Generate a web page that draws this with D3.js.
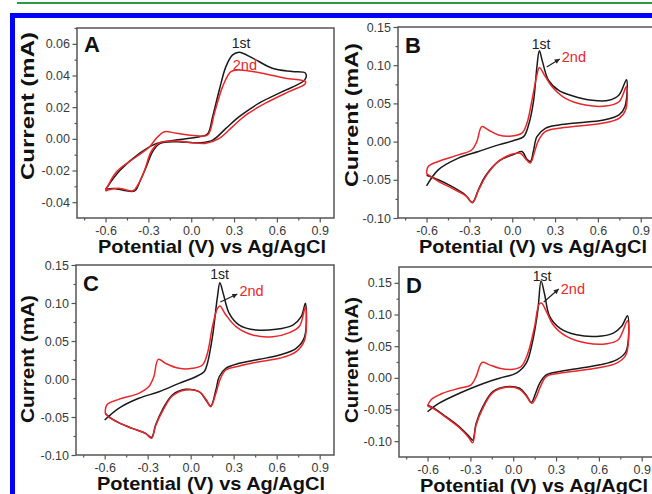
<!DOCTYPE html>
<html>
<head>
<meta charset="utf-8">
<script src="https://cdn.jsdelivr.net/npm/d3@7"></script>
<style>
body{margin:0;background:#fff}
svg{display:block}
text{font-family:"Liberation Sans",Arial,sans-serif}
</style>
</head>
<body>
<div id="chart"></div>
<script>
// datos: potencial (V) y corriente (mA), 1er y 2do barrido de cada panel
const potTicks = [-0.6, -0.3, 0.0, 0.3, 0.6, 0.9]
const ticksA = [-0.04, -0.02, 0.00, 0.02, 0.04, 0.06]
const ticksB = [-0.10, -0.05, 0.00, 0.05, 0.10, 0.15]
const ticksC = [-0.10, -0.05, 0.00, 0.05, 0.10, 0.15]
const ticksD = [-0.10, -0.05, 0.00, 0.05, 0.10, 0.15]
const domA = [-0.05, 0.07]
const domB = [-0.10, 0.15]
const domC = [-0.10, 0.15]
const domD = [-0.125, 0.175]
const potDom = [-0.8, 1.0]

const aFirst = [[-0.60,-0.032],[-0.50,-0.020],[-0.36,-0.009],[-0.245,-0.003],[-0.13,-0.001],[0.057,0.0013],[0.114,0.003],[0.15,0.014],[0.197,0.031],[0.243,0.0456],[0.29,0.053],[0.336,0.0547],[0.43,0.051],[0.568,0.0446],[0.707,0.0425],[0.80,0.0415],
  [0.795,0.0372],[0.638,0.0298],[0.475,0.0225],[0.336,0.014],[0.243,0.0066],[0.15,-0.0008],[0.057,-0.0025],[-0.105,-0.0018],[-0.22,-0.003],[-0.27,-0.008],[-0.315,-0.0177],[-0.36,-0.027],[-0.396,-0.0329],[-0.477,-0.0324],[-0.547,-0.0313],[-0.60,-0.032]]
const aSecond = [[-0.60,-0.033],[-0.523,-0.0208],[-0.384,-0.0113],[-0.291,-0.005],[-0.245,0.0003],[-0.187,0.0045],[-0.105,0.0035],[0.034,0.002],[0.115,0.0024],[0.162,0.016],[0.22,0.033],[0.278,0.0425],[0.336,0.0435],[0.522,0.041],[0.661,0.0383],[0.80,0.0362],
  [0.795,0.0345],[0.684,0.0298],[0.52,0.0225],[0.382,0.015],[0.29,0.0077],[0.197,0.0003],[0.104,-0.0028],[0.01,-0.0025],[-0.105,-0.0013],[-0.222,-0.0025],[-0.28,-0.008],[-0.326,-0.0197],[-0.373,-0.029],[-0.408,-0.0328],[-0.50,-0.0313],[-0.57,-0.032],[-0.60,-0.033]]

const bFirst = [[-0.60,-0.058],[-0.518,-0.037],[-0.377,-0.0217],[-0.237,-0.013],[-0.096,-0.0043],[0.021,0.002],[0.08,0.0065],[0.115,0.022],[0.15,0.054],[0.173,0.098],[0.19,0.119],[0.213,0.104],[0.255,0.080],[0.326,0.067],[0.42,0.060],[0.56,0.054],[0.677,0.054],[0.748,0.061],[0.80,0.081],
  [0.79,0.046],[0.748,0.035],[0.63,0.028],[0.466,0.0248],[0.326,0.0217],[0.232,0.0174],[0.173,0.0065],[0.15,-0.011],[0.127,-0.026],[0.103,-0.023],[0.068,-0.013],[0.021,-0.016],[-0.096,-0.026],[-0.19,-0.0457],[-0.237,-0.063],[-0.279,-0.0796],[-0.33,-0.0696],[-0.424,-0.0587],[-0.518,-0.05],[-0.60,-0.044]]
const bSecond = [[-0.60,-0.042],[-0.588,-0.0326],[-0.518,-0.026],[-0.377,-0.0174],[-0.284,-0.011],[-0.248,0.0],[-0.213,0.0196],[-0.166,0.0152],[-0.096,0.0087],[-0.002,0.0074],[0.068,0.011],[0.103,0.024],[0.138,0.054],[0.173,0.087],[0.19,0.097],[0.232,0.085],[0.279,0.0717],[0.373,0.0565],[0.513,0.0478],[0.654,0.0465],[0.748,0.0522],[0.80,0.072],
  [0.794,0.0413],[0.748,0.0304],[0.63,0.024],[0.466,0.0204],[0.326,0.0174],[0.232,0.013],[0.185,0.002],[0.157,-0.013],[0.127,-0.028],[0.096,-0.023],[0.056,-0.0152],[0.009,-0.016],[-0.084,-0.024],[-0.178,-0.0435],[-0.232,-0.062],[-0.279,-0.080],[-0.319,-0.0717],[-0.424,-0.061],[-0.518,-0.052],[-0.60,-0.042]]

const cFirst = [[-0.60,-0.054],[-0.502,-0.0386],[-0.362,-0.0254],[-0.221,-0.0167],[-0.081,-0.0057],[0.036,0.003],[0.094,0.0096],[0.117,0.0206],[0.152,0.0557],[0.187,0.1083],[0.204,0.1268],[0.227,0.1127],[0.269,0.0864],[0.339,0.071],[0.456,0.0645],[0.596,0.0654],[0.713,0.071],[0.771,0.082],[0.80,0.0996],
  [0.795,0.0557],[0.736,0.0404],[0.62,0.0316],[0.479,0.0259],[0.339,0.0206],[0.245,0.014],[0.199,0.003],[0.176,-0.0145],[0.14,-0.0355],[0.106,-0.0276],[0.059,-0.0167],[-0.035,-0.0136],[-0.128,-0.021],[-0.198,-0.0408],[-0.245,-0.0605],[-0.273,-0.0768],[-0.315,-0.0715],[-0.408,-0.0649],[-0.502,-0.0575],[-0.572,-0.0496],[-0.596,-0.045]]
const cSecond = [[-0.596,-0.045],[-0.584,-0.034],[-0.502,-0.0268],[-0.362,-0.0189],[-0.292,-0.01],[-0.257,0.0031],[-0.226,0.0259],[-0.175,0.0206],[-0.081,0.014],[0.012,0.014],[0.082,0.0184],[0.117,0.0338],[0.152,0.0689],[0.187,0.093],[0.204,0.096],[0.246,0.0842],[0.316,0.0689],[0.433,0.0579],[0.573,0.0557],[0.69,0.061],[0.76,0.0697],[0.80,0.095],
  [0.795,0.0513],[0.736,0.036],[0.62,0.0272],[0.479,0.0228],[0.339,0.0171],[0.245,0.0118],[0.204,-0.0013],[0.176,-0.0189],[0.14,-0.0364],[0.11,-0.0276],[0.059,-0.0167],[-0.035,-0.0145],[-0.128,-0.0224],[-0.198,-0.043],[-0.245,-0.0618],[-0.273,-0.078],[-0.315,-0.0715],[-0.408,-0.065],[-0.502,-0.0575],[-0.572,-0.05],[-0.596,-0.045]]

const dFirst = [[-0.60,-0.0535],[-0.518,-0.04],[-0.377,-0.0244],[-0.237,-0.0112],[-0.096,-0.0006],[0.021,0.0073],[0.091,0.0232],[0.138,0.0601],[0.173,0.1077],[0.195,0.153],[0.22,0.1315],[0.255,0.0971],[0.326,0.0786],[0.443,0.068],[0.584,0.0654],[0.701,0.0707],[0.759,0.0813],[0.80,0.0982],
  [0.79,0.0416],[0.724,0.0284],[0.607,0.0205],[0.466,0.0152],[0.326,0.01],[0.232,0.0047],[0.185,-0.0086],[0.157,-0.0244],[0.127,-0.0387],[0.091,-0.027],[0.045,-0.0165],[-0.049,-0.0139],[-0.143,-0.0218],[-0.213,-0.0456],[-0.26,-0.072],[-0.284,-0.0984],[-0.307,-0.093],[-0.377,-0.0773],[-0.471,-0.0614],[-0.553,-0.0482],[-0.60,-0.043]]
const dSecond = [[-0.60,-0.0445],[-0.577,-0.035],[-0.494,-0.0244],[-0.377,-0.0165],[-0.295,-0.0112],[-0.26,0.002],[-0.218,0.0242],[-0.166,0.0205],[-0.096,0.0152],[-0.002,0.0136],[0.056,0.0179],[0.103,0.039],[0.15,0.0813],[0.18,0.1156],[0.197,0.118],[0.232,0.105],[0.279,0.0839],[0.373,0.0654],[0.513,0.0549],[0.654,0.0538],[0.736,0.0601],[0.80,0.09],
  [0.79,0.0364],[0.724,0.0231],[0.607,0.0163],[0.466,0.0115],[0.326,0.0073],[0.232,0.002],[0.19,-0.0139],[0.162,-0.0297],[0.131,-0.0403],[0.091,-0.0287],[0.045,-0.0181],[-0.049,-0.015],[-0.143,-0.0234],[-0.213,-0.0482],[-0.26,-0.0746],[-0.284,-0.1026],[-0.312,-0.0942],[-0.377,-0.0789],[-0.471,-0.0625],[-0.553,-0.0493],[-0.60,-0.0445]]

// etiquetas "1st"/"2nd" y flecha, en unidades de datos
const labelsA = {first:[0.284,0.0574], second:[0.291,0.0435], arrow:null}
const labelsB = {first:[0.137,0.1212], second:[0.347,0.1042], arrow:[[0.242,0.0976],[0.333,0.1081]]}
const labelsC = {first:[0.137,0.1316], second:[0.340,0.1092], arrow:[[0.207,0.1013],[0.326,0.1118]]}
const labelsD = {first:[0.137,0.1529], second:[0.333,0.1324], arrow:[[0.214,0.1197],[0.319,0.1403]]}

const ancho = 652, alto = 494
const negro = "#1a1a1a", rojo = "#e8262b", gris = "#555"

const svg = d3.select("#chart").append("svg").attr("width", ancho).attr("height", alto)

// linea verde arriba y marco azul
svg.append("line").attr("x1", 17).attr("x2", ancho).attr("y1", 3).attr("y2", 3)
  .attr("stroke", "#2a9a45").attr("stroke-width", 2)
svg.append("path").attr("d", `M12.5,${alto} V15.5 H${ancho}`)
  .attr("fill", "none").attr("stroke", "#0000ff").attr("stroke-width", 5)

const paneles = [
  {id:"A", left:77, top:28, w:257, h:190, dom:domA, ticks:ticksA, minor:0.01, first:aFirst, second:aSecond, lab:labelsA, ylabX:34, ylabY:106, ylabLen:148},
  {id:"B", left:398, top:27, w:257, h:191, dom:domB, ticks:ticksB, minor:0.025, first:bFirst, second:bSecond, lab:labelsB, ylabX:358, ylabY:115, ylabLen:144},
  {id:"C", left:76, top:265, w:258, h:190, dom:domC, ticks:ticksC, minor:0.025, first:cFirst, second:cSecond, lab:labelsC, ylabX:34, ylabY:359, ylabLen:128},
  {id:"D", left:399, top:267, w:257, h:190, dom:domD, ticks:ticksD, minor:0.025, first:dFirst, second:dSecond, lab:labelsD, ylabX:358, ylabY:360, ylabLen:126}
]

paneles.forEach(p => {
  const g = svg.append("g").attr("transform", `translate(${p.left},${p.top})`)
  const x = d3.scaleLinear().domain(potDom).range([0, p.w])
  const y = d3.scaleLinear().domain(p.dom).range([p.h, 0])

  // ticks menores
  const xMinor = d3.range(-0.75, 1.0, 0.15).filter(v => !potTicks.some(t => Math.abs(t - v) < 1e-6))
  const yMinor = d3.range(p.dom[0] + p.minor, p.dom[1], p.minor).filter(v => !p.ticks.some(t => Math.abs(t - v) < 1e-6))
  g.append("g").attr("transform", `translate(0,${p.h})`)
    .call(d3.axisBottom(x).tickValues(xMinor).tickSize(2.5).tickFormat("").tickSizeOuter(0))
  g.append("g").call(d3.axisLeft(y).tickValues(yMinor).tickSize(2.5).tickFormat("").tickSizeOuter(0))

  const ejeX = g.append("g").attr("transform", `translate(0,${p.h})`)
    .call(d3.axisBottom(x).tickValues(potTicks).tickSize(4.5).tickPadding(4).tickSizeOuter(0).tickFormat(d => d.toFixed(1)))
  const ejeY = g.append("g")
    .call(d3.axisLeft(y).tickValues(p.ticks).tickSize(4.5).tickPadding(2.5).tickSizeOuter(0).tickFormat(d => d.toFixed(2)))
  ;[ejeX, ejeY].forEach(e => {
    e.selectAll("text").attr("font-size", 12.5).attr("fill", "#3a3a3a").attr("font-family", "Liberation Sans, Arial, sans-serif")
  })
  g.selectAll(".tick line").attr("stroke", gris).attr("stroke-width", 1.2)
  g.selectAll(".domain").remove()

  // marco
  g.append("rect").attr("width", p.w).attr("height", p.h)
    .attr("fill", "none").attr("stroke", gris).attr("stroke-width", 1.5)

  const linea = d3.line().x(d => x(d[0])).y(d => y(d[1])).curve(d3.curveCatmullRom.alpha(0.5))
  g.append("path").datum(p.first).attr("d", linea)
    .attr("fill", "none").attr("stroke", negro).attr("stroke-width", 1.5)
  g.append("path").datum(p.second).attr("d", linea)
    .attr("fill", "none").attr("stroke", rojo).attr("stroke-width", 1.5)

  // letra del panel
  g.append("text").attr("x", 7).attr("y", p.id == "A" ? 24 : 26).text(p.id)
    .attr("font-size", 22).attr("font-weight", "bold").attr("fill", "#111")

  // anotaciones
  g.append("text").attr("x", x(p.lab.first[0])).attr("y", y(p.lab.first[1])).text("1st")
    .attr("font-size", 14).attr("fill", "#222")
  g.append("text").attr("x", x(p.lab.second[0])).attr("y", y(p.lab.second[1])).text("2nd")
    .attr("font-size", 14.5).attr("fill", rojo)
  if (p.lab.arrow) {
    const [a, b] = p.lab.arrow
    const x1 = x(a[0]), y1 = y(a[1]), x2 = x(b[0]), y2 = y(b[1])
    g.append("line").attr("x1", x1).attr("y1", y1).attr("x2", x2).attr("y2", y2)
      .attr("stroke", "#222").attr("stroke-width", 1.2)
    const ang = Math.atan2(y2 - y1, x2 - x1) * 180 / Math.PI
    g.append("path").attr("d", "M0,0 L-5,-2.5 L-5,2.5 Z").attr("fill", "#222")
      .attr("transform", `translate(${x2},${y2}) rotate(${ang})`)
  }

  // titulos de ejes
  svg.append("text").attr("x", p.left + 135).attr("y", p.top + p.h + 34.5)
    .attr("text-anchor", "middle").attr("font-size", 18.5).attr("font-weight", "bold").attr("fill", "#111")
    .attr("textLength", 228).attr("lengthAdjust", "spacingAndGlyphs")
    .text("Potential (V) vs Ag/AgCl")
  svg.append("text").attr("transform", `translate(${p.ylabX},${p.ylabY}) rotate(-90)`)
    .attr("text-anchor", "middle").attr("font-size", 19).attr("font-weight", "bold").attr("fill", "#111")
    .attr("textLength", p.ylabLen).attr("lengthAdjust", "spacingAndGlyphs")
    .text("Current (mA)")
})
</script>
</body>
</html>
